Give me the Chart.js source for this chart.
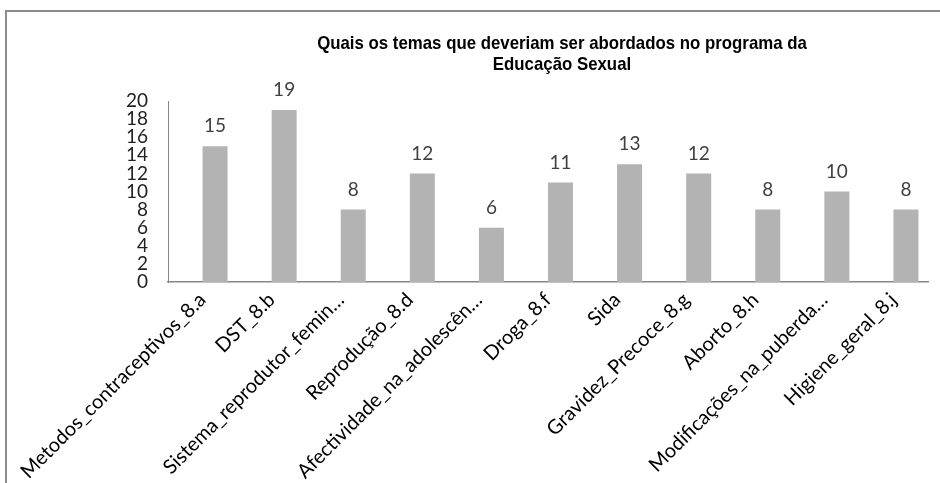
<!DOCTYPE html>
<html>
<head>
<meta charset="utf-8">
<script src="https://cdn.jsdelivr.net/npm/chart.js@4"></script>
<style>
  html, body { margin: 0; padding: 0; background: #fff; }
  #wrap { width: 940px; height: 483px; position: relative; }
</style>
</head>
<body>
<div id="wrap"><canvas id="myChart"></canvas></div>
<script>
var categories = [
  'Metodos_contraceptivos_8.a',
  'DST_8.b',
  'Sistema_reprodutor_femin\u2026',
  'Reprodu\u00e7\u00e3o_8.d',
  'Afectividade_na_adolesc\u00ean\u2026',
  'Droga_8.f',
  'Sida',
  'Gravidez_Precoce_8.g',
  'Aborto_8.h',
  'Modifica\u00e7\u00f5es_na_puberda\u2026',
  'Higiene_geral_8.j'
];
var values = [15, 19, 8, 12, 6, 11, 13, 12, 8, 10, 8];
var emptySeries = [null, null, null, null, null, null, null, null, null, null, null];
var titleLines = ['Quais os temas que deveriam ser abordados no programa da', 'Educa\u00e7\u00e3o Sexual'];

// frame + title + value labels drawn by hand, like the excel export
var extras = {
  id: 'extras',
  beforeDraw: function (chart) {
    var c = chart.ctx;
    c.save();
    c.strokeStyle = '#8c8c8c';
    c.lineWidth = 2;
    c.beginPath();
    c.moveTo(6, 483);
    c.lineTo(6, 11);
    c.lineTo(940, 11);
    c.stroke();
    c.restore();
  },
  afterDraw: function (chart) {
    var c = chart.ctx;
    c.save();
    // title is a bit condensed in the original, squeeze it horizontally
    c.save();
    c.translate(562, 0);
    c.scale(0.885, 1);
    c.fillStyle = '#000';
    c.font = 'bold 19px "Liberation Sans", Arial, sans-serif';
    c.textAlign = 'center';
    c.textBaseline = 'middle';
    c.fillText(titleLines[0], 0, 44);
    c.fillText(titleLines[1], 0, 65);
    c.restore();

    c.font = '19px Lato, sans-serif';
    c.fillStyle = '#404040';
    c.textAlign = 'center';
    c.textBaseline = 'middle';
    var meta = chart.getDatasetMeta(1);
    meta.data.forEach(function (bar, i) {
      c.fillText(values[i], bar.x, bar.y - 20);
    });
    c.restore();
  }
};

var ctx = document.getElementById('myChart').getContext('2d');
var myChart = new Chart(ctx, {
  type: 'bar',
  data: {
    labels: categories,
    datasets: [{
      data: emptySeries,
      backgroundColor: '#b3b3b3'
    }, {
      data: values,
      backgroundColor: '#b3b3b3'
    }]
  },
  options: {
    responsive: true,
    maintainAspectRatio: false,
    animation: false,
    categoryPercentage: 0.724,
    barPercentage: 1,
    layout: { padding: { top: 101, right: 12, left: 0, bottom: 0 } },
    plugins: {
      legend: { display: false },
      title: { display: false },
      tooltip: { enabled: false }
    },
    scales: {
      x: {
        grid: { display: false, drawTicks: false },
        border: { display: true, color: '#868686', width: 1.5 },
        ticks: {
          minRotation: 45,
          maxRotation: 45,
          autoSkip: false,
          padding: 6,
          color: '#000',
          font: { family: 'Lato, sans-serif', size: 20 }
        },
        afterFit: function (scale) { scale.height = 201; }
      },
      y: {
        min: 0,
        max: 20,
        grid: { display: false, drawTicks: false },
        border: { display: true, color: '#868686', width: 1 },
        ticks: {
          stepSize: 2,
          autoSkip: false,
          padding: 20,
          color: '#222',
          font: { family: 'Lato, sans-serif', size: 19 }
        },
        afterFit: function (scale) { scale.width = 168; }
      }
    }
  },
  plugins: [extras]
});
</script>
</body>
</html>
